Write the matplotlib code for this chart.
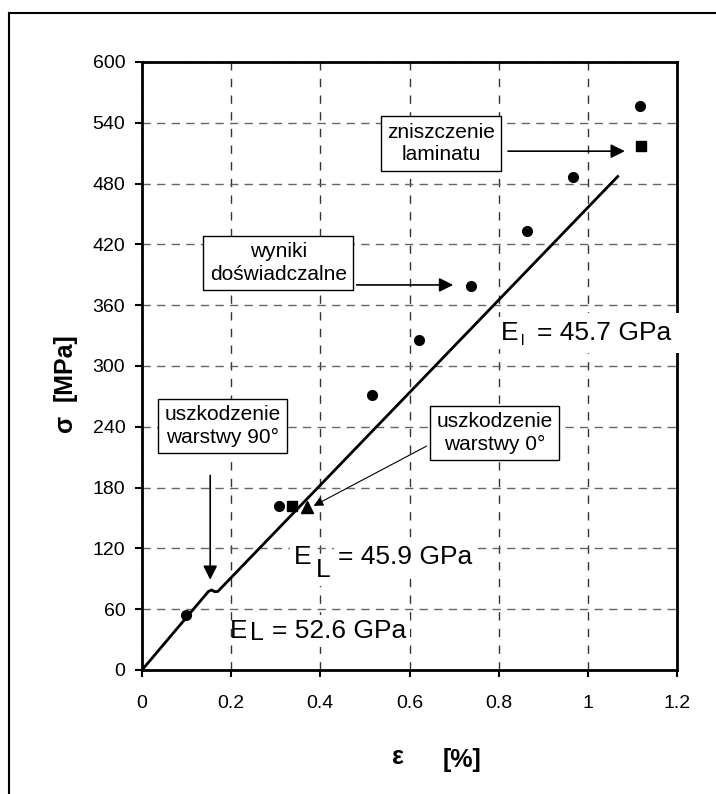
import matplotlib
matplotlib.use("Agg")
import matplotlib.pyplot as plt
from matplotlib.lines import Line2D

plt.rcParams['font.family'] = ['Liberation Sans', 'DejaVu Sans']

# ---- data ----
exp_strain = [0.099, 0.308, 0.517, 0.622, 0.738, 0.863, 0.967, 1.117]
exp_stress = [54, 162, 271, 326, 379, 433, 487, 557]
sq_strain = [0.336, 1.12]
sq_stress = [162, 517]
tri_strain = [0.371]
tri_stress = [161]
model_strain = [0.0, 0.149, 0.156, 0.163, 0.170, 1.067]
model_stress = [0.0, 77.5, 79.0, 77.3, 77.5, 487.0]
xticks = [0, 0.2, 0.4, 0.6, 0.8, 1.0, 1.2]
xticklabels = ['0', '0.2', '0.4', '0.6', '0.8', '1', '1.2']
yticks = list(range(0, 601, 60))

fig = plt.figure(figsize=(7.16, 7.94), dpi=100)
ax = fig.add_axes([142/716, 1-670/794, 535/716, 608/794])

ax.set_xlim(0, 1.2)
ax.set_ylim(0, 600)
ax.set_xticks(xticks)
ax.set_xticklabels(xticklabels)
ax.set_yticks(yticks)
ax.xaxis.grid(True, color='#333333', linestyle=(0, (6, 6)), lw=1)
ax.yaxis.grid(True, color='#666666', linestyle=(0, (6, 4.5)), lw=1)
ax.set_axisbelow(True)
for s in ax.spines.values():
    s.set_linewidth(2)
ax.tick_params(axis='both', direction='out', length=5, width=1.5, labelsize=14)
ax.tick_params(axis='y', pad=7)
ax.tick_params(axis='x', pad=13)

ax.plot(model_strain, model_stress, color='k', lw=2, zorder=4)
ax.plot(exp_strain, exp_stress, 'o', color='k', ms=7, zorder=5)
ax.plot(sq_strain, sq_stress, 's', color='k', ms=7, zorder=5)
ax.plot(tri_strain, tri_stress, '^', color='k', ms=9, zorder=5)

box = dict(boxstyle='square,pad=0.3', fc='white', ec='black', lw=1)
arr = dict(arrowstyle='-|>,head_length=0.4,head_width=0.2', color='k', lw=1.2,
           mutation_scale=21, shrinkA=0, shrinkB=0)

ax.text(0.671, 519.5, 'zniszczenie\nlaminatu', ha='center', va='center',
        fontsize=15, bbox=box, zorder=6, linespacing=1.25)
ax.annotate('', xy=(1.083, 512), xytext=(0.821, 512), arrowprops=arr, zorder=6)

ax.text(0.3055, 402, 'wyniki\ndoświadczalne', ha='center', va='center',
        fontsize=15, bbox=box, zorder=6, linespacing=1.25)
ax.annotate('', xy=(0.698, 380), xytext=(0.4815, 380), arrowprops=arr, zorder=6)

ax.text(0.181, 241, 'uszkodzenie\nwarstwy 90°', ha='center', va='center',
        fontsize=15, bbox=box, zorder=6, linespacing=1.25)
ax.annotate('', xy=(0.153, 89), xytext=(0.153, 192), arrowprops=arr, zorder=6)

ax.text(0.7905, 234, 'uszkodzenie\nwarstwy 0°', ha='center', va='center',
        fontsize=15, bbox=box, zorder=6, linespacing=1.25)
thin = dict(arrowstyle='-|>,head_length=0.4,head_width=0.2', color='k', lw=0.8,
            mutation_scale=14, shrinkA=0, shrinkB=0)
ax.annotate('', xy=(0.385, 162), xytext=(0.6385, 221), arrowprops=thin, zorder=6)

wb = dict(boxstyle='square,pad=0.15', fc='white', ec='none')
# E_l = 45.7 GPa
ax.text(0.806, 326, 'E', fontsize=19, ha='left', va='baseline', bbox=wb, zorder=6)
ax.text(0.851, 321, 'l', fontsize=11, ha='left', va='baseline', zorder=7)
ax.text(0.885, 326, '= 45.7 GPa', fontsize=19, ha='left', va='baseline',
        bbox=dict(boxstyle='square,pad=0.3', fc='white', ec='none'), zorder=6, clip_on=False)
# E_L = 45.9 GPa
ax.text(0.341, 105, 'E', fontsize=19, ha='left', va='baseline', bbox=wb, zorder=6)
ax.text(0.3905, 92, 'L', fontsize=19, ha='left', va='baseline', bbox=wb, zorder=6)
ax.text(0.4395, 105, '= 45.9 GPa', fontsize=19, ha='left', va='baseline', bbox=wb, zorder=6)
# E_L = 52.6 GPa
ax.text(0.197, 31.3, 'E', fontsize=19, ha='left', va='baseline', zorder=6)
ax.text(0.2422, 29.6, 'L', fontsize=18, ha='left', va='baseline', bbox=wb, zorder=6)
ax.text(0.291, 31.3, '= 52.6 GPa', fontsize=19, ha='left', va='baseline', bbox=wb, zorder=6)

# axis labels
fig.text(65/716, 1-423/794, 'σ', rotation=90, fontsize=18, fontweight='bold',
         ha='center', va='center')
fig.text(65/716, 1-367/794, '[MPa]', rotation=90, fontsize=18, fontweight='bold',
         ha='center', va='center')
fig.text(398/716, 1-757/794, 'ε', fontsize=18, fontweight='bold', ha='center', va='center')
fig.text(462/716, 1-760/794, '[%]', fontsize=18, fontweight='bold', ha='center', va='center')

# figure frame (left and top edges visible)
fig.add_artist(Line2D([9/716, 9/716], [0, 1-13/794], transform=fig.transFigure, color='k', lw=1.5))
fig.add_artist(Line2D([9/716, 1], [1-13/794, 1-13/794], transform=fig.transFigure, color='k', lw=1.5))

fig.savefig('out.png', dpi=100)
